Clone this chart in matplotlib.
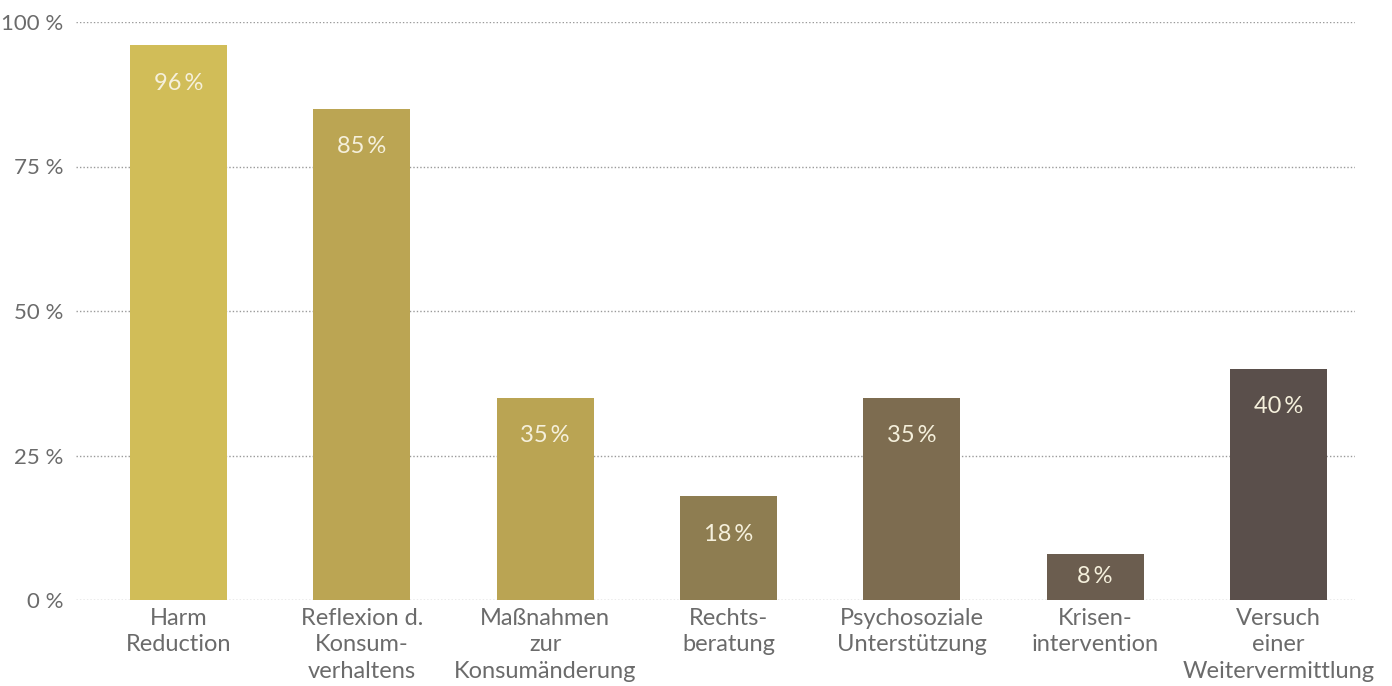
import matplotlib.pyplot as plt

# Anteile der Beratungsinhalte
categories = [
    "Harm\nReduction",
    "Reflexion d.\nKonsum-\nverhaltens",
    "Maßnahmen\nzur\nKonsumänderung",
    "Rechts-\nberatung",
    "Psychosoziale\nUnterstützung",
    "Krisen-\nintervention",
    "Versuch\neiner\nWeitervermittlung",
]
values = [96, 85, 35, 18, 35, 8, 40]
bar_colors = ["#D1BD58", "#BBA553", "#BAA453", "#8E7D51", "#7D6C50", "#6B5D4F", "#5A4F4B"]
y_ticks = [0, 25, 50, 75, 100]

plt.rcParams['font.family'] = ['Lato', 'DejaVu Sans']

fig = plt.figure(figsize=(13.92, 6.86), dpi=100)
ax = fig.add_axes([76 / 1392, 86 / 686, 1279 / 1392, 578 / 686])

x = range(len(categories))
bars = ax.bar(x, values, width=0.53, color=bar_colors, zorder=2)

# Wert oben im Balken, bei kurzen Balken mittig
for b, v in zip(bars, values):
    y = v - 6.6 if v > 13.2 else v / 2
    ax.text(b.get_x() + b.get_width() / 2, y, f"{v}\u2009%",
            ha='center', va='center', fontsize=17, color='#F5F0DC', zorder=3)

ax.set_xlim(-0.559, 6.417)
ax.set_ylim(0, 100)
ax.set_yticks(y_ticks)
ax.set_yticklabels([f"{t} %" for t in y_ticks])
ax.set_xticks(list(x))
ax.set_xticklabels(categories, linespacing=1.3)

ax.tick_params(axis='both', length=0, labelcolor='#6b6b6b')
ax.tick_params(axis='x', pad=6, labelsize=17)
ax.tick_params(axis='y', pad=9, labelsize=16)

ax.yaxis.grid(True, linestyle=(0, (1, 1.5)), color='#9a9a9a', linewidth=1, zorder=0)
ax.set_axisbelow(True)
for s in ax.spines.values():
    s.set_visible(False)

fig.savefig("out.png", dpi=100)
